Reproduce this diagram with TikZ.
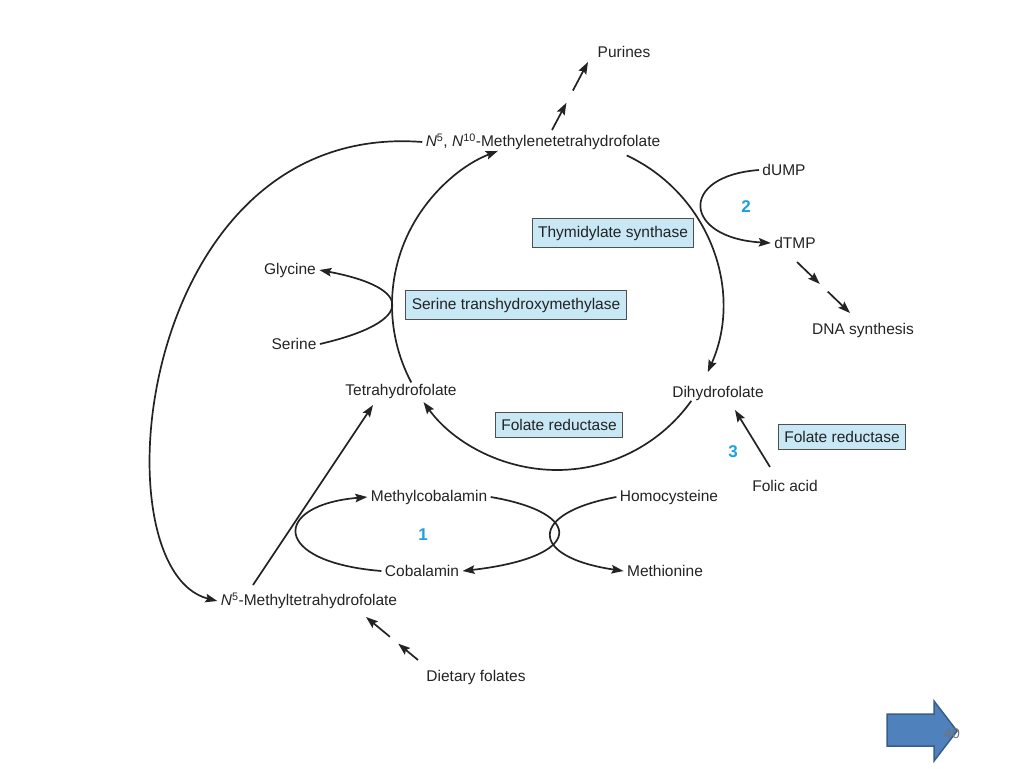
\documentclass[tikz,border=0pt]{standalone}
\usepackage{fontspec}
\setmainfont{Liberation Sans}
\usetikzlibrary{arrows.meta,calc}
\definecolor{boxblue}{RGB}{200,232,245}
\definecolor{numblue}{RGB}{27,161,226}
\definecolor{btnblue}{RGB}{79,129,189}
\definecolor{btnedge}{RGB}{56,93,138}
\definecolor{ink}{RGB}{35,35,35}

\begin{document}
\begin{tikzpicture}[x=1pt, y=-1pt, font=\fontsize{15.5}{18}\selectfont, text=ink]
\tikzset{enz/.style={draw=ink!80, line width=1pt, fill=boxblue, inner xsep=6pt, inner ysep=7pt}}
\tikzset{num/.style={text=numblue, font=\fontsize{17}{20}\selectfont\bfseries}}
\tikzset{rx/.style={draw=ink, line width=1.7pt, -{Stealth[length=12pt,width=8.5pt,inset=2pt]}}}
\useasboundingbox (0,0) rectangle (1024,768);

% folate cycle
\coordinate (c) at (557,305);
\node (methylene) at (543,142) {\textit{N}\textsuperscript{5}, \textit{N}\textsuperscript{10}-Methylenetetrahydrofolate};
\node (purines) at (624,52) {Purines};
\node (thf) at (401,391) {Tetrahydrofolate};
\node (dhf) at (718,393) {Dihydrofolate};
\node[enz] (sth) at (516,305) {Serine transhydroxymethylase};
\node[enz] (ts) at (613,233) {Thymidylate synthase};
\node[enz] (fr1) at (559,425) {Folate reductase};
\draw[rx] ($(c)+(152:165)$) arc[start angle=152, end angle=249, radius=165];
\draw[rx] ($(c)+(-65:165)$) arc[start angle=-65, end angle=24, radius=165];
\draw[rx] ($(c)+(35.5:165)$) arc[start angle=35.5, end angle=144, radius=165];

% purines
\coordinate (pu1) at (552,130);
\coordinate (pu2) at (588,62);
\draw[rx] (pu1) -- ($(pu1)!0.4!(pu2)$);
\draw[rx] ($(pu1)!0.58!(pu2)$) -- (pu2);

% thymidylate
\node (dump) at (784,170) {dUMP};
\node (dtmp) at (795,243) {dTMP};
\node (dna) at (863,330) {DNA synthesis};
\node[num] (n2) at (746,207) {2};
\draw[rx] (dump.west) .. controls (678,176) and (683,238) .. (dtmp.west);
\coordinate (dn1) at (797,262);
\coordinate (dn2) at (850,313);
\draw[rx] (dn1) -- ($(dn1)!0.43!(dn2)$);
\draw[rx] ($(dn1)!0.58!(dn2)$) -- (dn2);

% serine
\node (glycine) at (290,270) {Glycine};
\node (serine) at (294,344) {Serine};
\draw[rx] (serine.east) .. controls (415,322) and (415,288) .. (glycine.east);

% folic acid
\node[enz] (fr2) at (842,437) {Folate reductase};
\node[num] (n3) at (733,452) {3};
\node (folic) at (785,486) {Folic acid};
\draw[rx] (770,467) -- (735,410);

% methyl trap
\node (mecbl) at (429,497) {Methylcobalamin};
\node (cbl) at (422,571) {Cobalamin};
\node (hcy) at (669,497) {Homocysteine};
\node (met) at (665,571) {Methionine};
\node[num] (n1) at (423,535) {1};
\node (mthf) at (309,601) {\textit{N}\textsuperscript{5}-Methyltetrahydrofolate};
\node (diet) at (476,677) {Dietary folates};
\draw[rx] (cbl.west) .. controls (270,562) and (272,505) .. (mecbl.west);
\draw[rx] (mecbl.east) .. controls (585,513) and (585,557) .. (cbl.east);
\draw[rx] (hcy.west) .. controls (528,513) and (528,557) .. (met.west);
\draw[rx] (253,585) -- (373,405);
\draw[rx] (methylene.west) .. controls (135,120) and (95,570) .. (mthf.west);
\coordinate (df1) at (418,660);
\coordinate (df2) at (366,617);
\draw[rx] (df1) -- ($(df1)!0.38!(df2)$);
\draw[rx] ($(df1)!0.54!(df2)$) -- (df2);

% page button
\draw[btnedge, fill=btnblue, line width=1.5pt] (887,714) -- (934,714) -- (934,701) -- (957,731) -- (934,761) -- (934,746) -- (887,746) -- cycle;
\node[text=black!55, font=\fontsize{14}{16}\selectfont] (page) at (952,734) {40};
\end{tikzpicture}
\end{document}
